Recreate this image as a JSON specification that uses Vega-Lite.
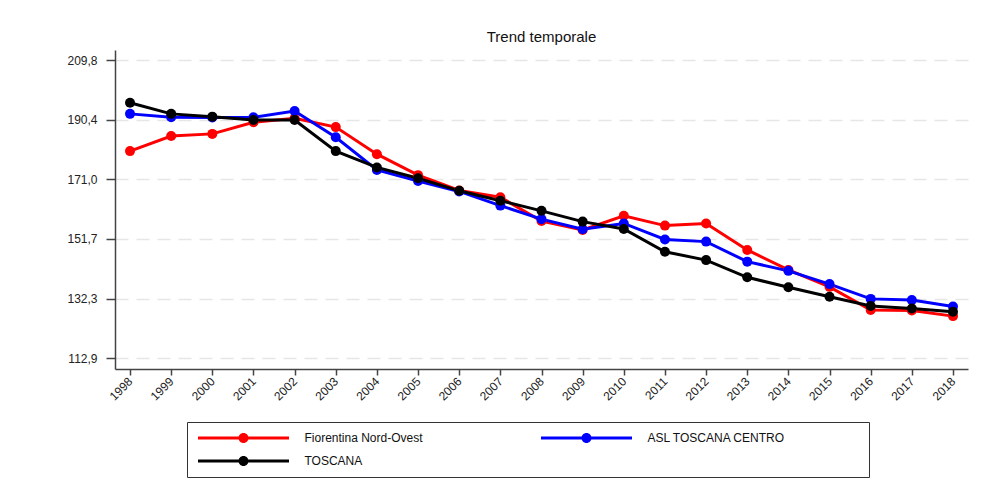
{
  "$schema": "https://vega.github.io/schema/vega-lite/v6.json",
  "width": 853,
  "height": 319,
  "autosize": {"type": "none"},
  "padding": {"left": 115, "top": 50, "right": 14, "bottom": 123},
  "background": "white",
  "title": {"text": "Trend temporale", "fontSize": 15, "fontWeight": "normal", "font": "Liberation Sans", "color": "#111", "anchor": "middle", "offset": 5},
  "config": {
    "view": {"stroke": null},
    "font": "Liberation Sans"
  },
  "data": {"values": [
    {"anno": "1998", "serie": "Fiorentina Nord-Ovest", "valore": 180.2},
    {"anno": "1999", "serie": "Fiorentina Nord-Ovest", "valore": 185.1},
    {"anno": "2000", "serie": "Fiorentina Nord-Ovest", "valore": 185.8},
    {"anno": "2001", "serie": "Fiorentina Nord-Ovest", "valore": 189.6},
    {"anno": "2002", "serie": "Fiorentina Nord-Ovest", "valore": 190.9},
    {"anno": "2003", "serie": "Fiorentina Nord-Ovest", "valore": 188.0},
    {"anno": "2004", "serie": "Fiorentina Nord-Ovest", "valore": 179.2},
    {"anno": "2005", "serie": "Fiorentina Nord-Ovest", "valore": 172.4},
    {"anno": "2006", "serie": "Fiorentina Nord-Ovest", "valore": 167.4},
    {"anno": "2007", "serie": "Fiorentina Nord-Ovest", "valore": 165.2},
    {"anno": "2008", "serie": "Fiorentina Nord-Ovest", "valore": 157.5},
    {"anno": "2009", "serie": "Fiorentina Nord-Ovest", "valore": 154.6},
    {"anno": "2010", "serie": "Fiorentina Nord-Ovest", "valore": 159.2},
    {"anno": "2011", "serie": "Fiorentina Nord-Ovest", "valore": 156.0},
    {"anno": "2012", "serie": "Fiorentina Nord-Ovest", "valore": 156.7},
    {"anno": "2013", "serie": "Fiorentina Nord-Ovest", "valore": 148.1},
    {"anno": "2014", "serie": "Fiorentina Nord-Ovest", "valore": 141.6},
    {"anno": "2015", "serie": "Fiorentina Nord-Ovest", "valore": 136.1},
    {"anno": "2016", "serie": "Fiorentina Nord-Ovest", "valore": 128.6},
    {"anno": "2017", "serie": "Fiorentina Nord-Ovest", "valore": 128.4},
    {"anno": "2018", "serie": "Fiorentina Nord-Ovest", "valore": 126.6},
    {"anno": "1998", "serie": "ASL TOSCANA CENTRO", "valore": 192.3},
    {"anno": "1999", "serie": "ASL TOSCANA CENTRO", "valore": 191.2},
    {"anno": "2000", "serie": "ASL TOSCANA CENTRO", "valore": 191.1},
    {"anno": "2001", "serie": "ASL TOSCANA CENTRO", "valore": 191.2},
    {"anno": "2002", "serie": "ASL TOSCANA CENTRO", "valore": 193.2},
    {"anno": "2003", "serie": "ASL TOSCANA CENTRO", "valore": 184.7},
    {"anno": "2004", "serie": "ASL TOSCANA CENTRO", "valore": 174.1},
    {"anno": "2005", "serie": "ASL TOSCANA CENTRO", "valore": 170.5},
    {"anno": "2006", "serie": "ASL TOSCANA CENTRO", "valore": 167.1},
    {"anno": "2007", "serie": "ASL TOSCANA CENTRO", "valore": 162.5},
    {"anno": "2008", "serie": "ASL TOSCANA CENTRO", "valore": 158.1},
    {"anno": "2009", "serie": "ASL TOSCANA CENTRO", "valore": 154.8},
    {"anno": "2010", "serie": "ASL TOSCANA CENTRO", "valore": 156.7},
    {"anno": "2011", "serie": "ASL TOSCANA CENTRO", "valore": 151.5},
    {"anno": "2012", "serie": "ASL TOSCANA CENTRO", "valore": 150.8},
    {"anno": "2013", "serie": "ASL TOSCANA CENTRO", "valore": 144.3},
    {"anno": "2014", "serie": "ASL TOSCANA CENTRO", "valore": 141.3},
    {"anno": "2015", "serie": "ASL TOSCANA CENTRO", "valore": 137.0},
    {"anno": "2016", "serie": "ASL TOSCANA CENTRO", "valore": 132.2},
    {"anno": "2017", "serie": "ASL TOSCANA CENTRO", "valore": 131.8},
    {"anno": "2018", "serie": "ASL TOSCANA CENTRO", "valore": 129.7},
    {"anno": "1998", "serie": "TOSCANA", "valore": 195.9},
    {"anno": "1999", "serie": "TOSCANA", "valore": 192.3},
    {"anno": "2000", "serie": "TOSCANA", "valore": 191.4},
    {"anno": "2001", "serie": "TOSCANA", "valore": 190.3},
    {"anno": "2002", "serie": "TOSCANA", "valore": 190.3},
    {"anno": "2003", "serie": "TOSCANA", "valore": 180.2},
    {"anno": "2004", "serie": "TOSCANA", "valore": 174.9},
    {"anno": "2005", "serie": "TOSCANA", "valore": 171.4},
    {"anno": "2006", "serie": "TOSCANA", "valore": 167.3},
    {"anno": "2007", "serie": "TOSCANA", "valore": 164.1},
    {"anno": "2008", "serie": "TOSCANA", "valore": 160.8},
    {"anno": "2009", "serie": "TOSCANA", "valore": 157.3},
    {"anno": "2010", "serie": "TOSCANA", "valore": 154.9},
    {"anno": "2011", "serie": "TOSCANA", "valore": 147.5},
    {"anno": "2012", "serie": "TOSCANA", "valore": 144.8},
    {"anno": "2013", "serie": "TOSCANA", "valore": 139.2},
    {"anno": "2014", "serie": "TOSCANA", "valore": 136.0},
    {"anno": "2015", "serie": "TOSCANA", "valore": 132.9},
    {"anno": "2016", "serie": "TOSCANA", "valore": 129.9},
    {"anno": "2017", "serie": "TOSCANA", "valore": 129.1},
    {"anno": "2018", "serie": "TOSCANA", "valore": 128.0}
  ]},
  "encoding": {
    "x": {
      "field": "anno", "type": "ordinal",
      "scale": {"type": "point", "padding": 0.365},
      "axis": {
        "title": null, "labelAngle": -45, "labelAlign": "right", "labelBaseline": "middle",
        "labelFontSize": 12, "labelColor": "#222", "labelPadding": 4,
        "domainColor": "#444", "domainWidth": 1.5, "tickColor": "#444", "tickWidth": 1.5, "tickSize": 6,
        "grid": false
      }
    },
    "y": {
      "field": "valore", "type": "quantitative",
      "scale": {"domain": [109.42, 213.05], "nice": false, "zero": false},
      "axis": {
        "title": null, "values": [112.9, 132.3, 151.7, 171.0, 190.4, 209.8],
        "labelExpr": "replace(format(datum.value, '.1f'), '.', ',')",
        "labelFontSize": 12, "labelColor": "#222", "labelPadding": 9,
        "domainColor": "#444", "domainWidth": 1.5, "tickColor": "#444", "tickWidth": 1.5, "tickSize": 9,
        "grid": true, "gridColor": "#e6e6e6", "gridWidth": 1.5, "gridDash": [13, 8]
      }
    },
    "color": {
      "field": "serie", "type": "nominal",
      "scale": {"domain": ["Fiorentina Nord-Ovest", "ASL TOSCANA CENTRO", "TOSCANA"], "range": ["#ff0000", "#0000ff", "#000000"]},
      "legend": {
        "title": null, "orient": "none", "legendX": 72, "legendY": 372,
        "columns": 2, "direction": "horizontal",
        "symbolType": "M-9.1,-0.3H9.1V0.3H-9.1Z M-1,0A1,1 0 1,1 1,0A1,1 0 1,1 -1,0Z",
        "symbolSize": 100, "symbolOffset": 40.5, "symbolStrokeWidth": 0, "symbolOpacity": 1,
        "labelFontSize": 12, "labelFont": "Liberation Sans", "labelColor": "#111", "labelOffset": 55, "labelLimit": 400,
        "labelExpr": "datum.value == 'ASL TOSCANA CENTRO' ? datum.label + '                      \u200b' : datum.label",
        "columnPadding": 117, "rowPadding": 11, "padding": 10,
        "strokeColor": "#333", "fillColor": "white"
      }
    }
  },
  "layer": [
    {
      "mark": {"type": "line", "strokeWidth": 3}
    },
    {
      "mark": {"type": "point", "filled": true, "size": 100, "opacity": 1}
    }
  ]
}
